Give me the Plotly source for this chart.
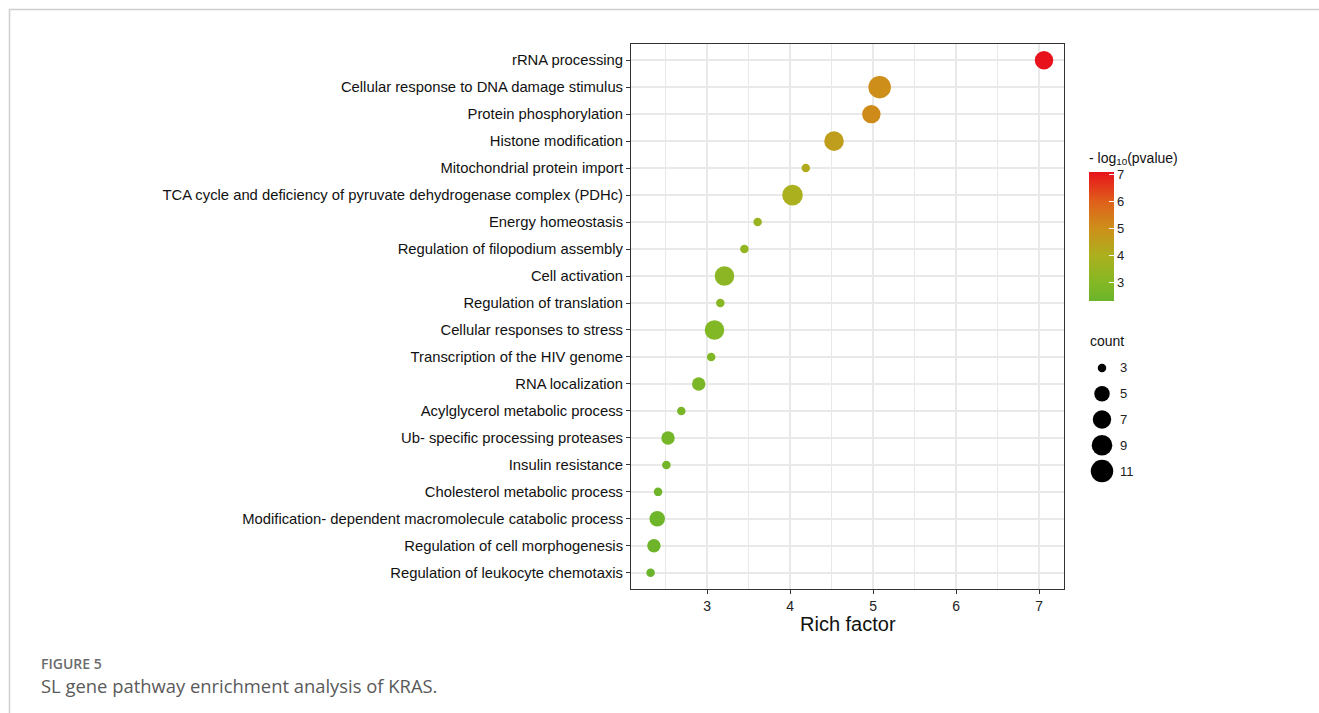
import plotly.graph_objects as go

# Enriched pathways, top to bottom
terms = [
    "rRNA processing",
    "Cellular response to DNA damage stimulus",
    "Protein phosphorylation",
    "Histone modification",
    "Mitochondrial protein import",
    "TCA cycle and deficiency of pyruvate dehydrogenase complex (PDHc)",
    "Energy homeostasis",
    "Regulation of filopodium assembly",
    "Cell activation",
    "Regulation of translation",
    "Cellular responses to stress",
    "Transcription of the HIV genome",
    "RNA localization",
    "Acylglycerol metabolic process",
    "Ub- specific processing proteases",
    "Insulin resistance",
    "Cholesterol metabolic process",
    "Modification- dependent macromolecule catabolic process",
    "Regulation of cell morphogenesis",
    "Regulation of leukocyte chemotaxis",
]
rich_factor = [7.06, 5.08, 4.98, 4.53, 4.19, 4.03, 3.61, 3.45, 3.21, 3.16,
               3.09, 3.05, 2.90, 2.69, 2.53, 2.51, 2.41, 2.40, 2.36, 2.32]
neg_log10_p = [7.10, 5.05, 5.10, 4.55, 4.20, 4.00, 3.55, 3.40, 3.20, 3.10,
               2.95, 2.90, 2.75, 2.70, 2.60, 2.55, 2.45, 2.45, 2.40, 2.33]
gene_count = [7, 11, 7, 8, 3, 9, 3, 3, 8, 3, 8, 3, 4, 3, 4, 3, 3, 5, 4, 3]

count_breaks = [3, 5, 7, 9, 11]
color_ticks = [3, 4, 5, 6, 7]

W, H = 1319, 713
FONT = "Liberation Sans, Arial, sans-serif"
GRID = "#e9e9e9"


def px_x(p):
    return p / W


def px_y(p):
    return 1 - p / H


# area scale for point size (diameter in px)
D_MIN, D_MAX = 8.5, 22.5
C_MIN, C_MAX = min(count_breaks), max(count_breaks)


def size_of(c):
    return D_MIN + (D_MAX - D_MIN) * ((c - C_MIN) / (C_MAX - C_MIN)) ** 0.5


colorscale = [
    [0.00, "#6ab42b"],
    [0.14, "#84b824"],
    [0.35, "#abb01e"],
    [0.56, "#cd901a"],
    [0.77, "#df601a"],
    [1.00, "#e8121c"],
]
P_MIN, P_MAX = min(neg_log10_p), max(neg_log10_p)

fig = go.Figure()

fig.add_trace(go.Scatter(
    x=rich_factor,
    y=terms,
    mode="markers",
    marker=dict(
        size=[size_of(c) for c in gene_count],
        color=neg_log10_p,
        colorscale=colorscale,
        cmin=P_MIN,
        cmax=P_MAX,
        opacity=1,
        line=dict(width=0),
        colorbar=dict(
            x=px_x(1089), xanchor="left",
            y=px_y(149), yanchor="top",
            len=152, lenmode="pixels",
            thickness=25, thicknessmode="pixels",
            xpad=0, ypad=0,
            outlinewidth=0,
            ticks="inside", ticklen=5, tickcolor="white", tickwidth=1,
            tickvals=color_ticks,
            tickfont=dict(family=FONT, size=13, color="#222"),
            title=dict(text="- log<sub>10</sub>(pvalue)", side="top",
                       font=dict(family=FONT, size=14, color="#111")),
        ),
    ),
    showlegend=False,
    hoverinfo="x+y",
))

# size key for gene counts
fig.add_trace(go.Scatter(
    x=[0] * len(count_breaks),
    y=[str(c) for c in count_breaks],
    mode="markers",
    marker=dict(size=[size_of(c) for c in count_breaks], color="#000000",
                opacity=1, line=dict(width=0)),
    xaxis="x2", yaxis="y2",
    showlegend=False,
    hoverinfo="skip",
))

fig.update_layout(
    width=W, height=H,
    autosize=False,
    margin=dict(l=0, r=0, t=0, b=0, autoexpand=False),
    paper_bgcolor="white",
    plot_bgcolor="white",
    font=dict(family=FONT, color="#111"),
    xaxis=dict(
        domain=[px_x(631), px_x(1064)],
        range=[2.084, 7.301],
        tickvals=[3, 4, 5, 6, 7],
        ticks="outside", ticklen=4, tickcolor="#333", tickwidth=1,
        tickfont=dict(family=FONT, size=14, color="#222"),
        showgrid=True, gridcolor=GRID, gridwidth=1.6,
        minor=dict(dtick=0.5, showgrid=True, gridcolor=GRID, gridwidth=1, ticks=""),
        showline=True, linecolor="#333", linewidth=1, mirror=True,
        zeroline=False,
        automargin=False,
    ),
    yaxis=dict(
        domain=[px_y(589), px_y(44)],
        type="category",
        categoryorder="array",
        categoryarray=list(reversed(terms)),
        range=[-0.6, len(terms) - 0.4],
        ticks="outside", ticklen=4, tickcolor="#333", tickwidth=1,
        tickfont=dict(family=FONT, size=14.8, color="#111"),
        showgrid=True, gridcolor=GRID, gridwidth=1.6,
        showline=True, linecolor="#333", linewidth=1, mirror=True,
        zeroline=False,
        automargin=False,
    ),
    xaxis2=dict(
        domain=[px_x(1085), px_x(1119)],
        range=[-1, 1],
        anchor="y2",
        visible=False,
        fixedrange=True,
    ),
    yaxis2=dict(
        domain=[px_y(484), px_y(355)],
        anchor="x2",
        type="category",
        categoryorder="array",
        categoryarray=[str(c) for c in count_breaks],
        range=[len(count_breaks) - 0.5, -0.5],
        side="right",
        showgrid=False, zeroline=False, showline=False,
        ticks="",
        tickfont=dict(family=FONT, size=13, color="#222"),
        fixedrange=True,
        automargin=False,
    ),
    annotations=[
        dict(text="Rich factor", xref="paper", yref="paper",
             x=(px_x(631) + px_x(1064)) / 2, y=px_y(624),
             xanchor="center", yanchor="middle", showarrow=False,
             font=dict(family=FONT, size=20, color="#111")),
        dict(text="count", xref="paper", yref="paper",
             x=px_x(1088), y=px_y(341), xanchor="left", yanchor="middle",
             showarrow=False, font=dict(family=FONT, size=14, color="#111")),
        dict(text="FIGURE 5", xref="paper", yref="paper",
             x=px_x(39), y=px_y(663), xanchor="left", yanchor="middle",
             showarrow=False,
             font=dict(family="Open Sans, sans-serif", size=14, color="#6b6b6b",
                       weight=600)),
        dict(text="SL gene pathway enrichment analysis of KRAS.",
             xref="paper", yref="paper",
             x=px_x(39), y=px_y(685), xanchor="left", yanchor="middle",
             showarrow=False,
             font=dict(family="Open Sans, sans-serif", size=18.4, color="#5a5a5a")),
    ],
    shapes=[
        dict(type="line", xref="paper", yref="paper",
             x0=px_x(9), x1=1, y0=px_y(9.5), y1=px_y(9.5),
             line=dict(color="#cfcfcf", width=1.5)),
        dict(type="line", xref="paper", yref="paper",
             x0=px_x(9.5), x1=px_x(9.5), y0=px_y(9), y1=0,
             line=dict(color="#cfcfcf", width=1.5)),
    ],
)

fig.write_html("out.html")
